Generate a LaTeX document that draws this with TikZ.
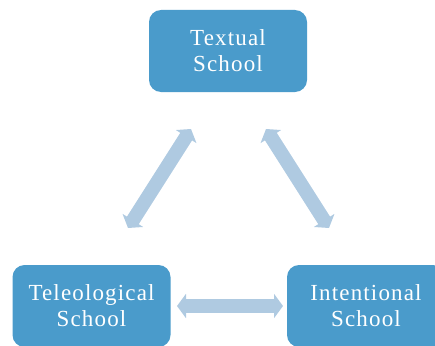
\documentclass[tikz,border=0pt]{standalone}
\usepackage{fontspec}
\usetikzlibrary{arrows.meta}
\newfontfamily\boxfont[LetterSpace=5]{Liberation Serif}
\definecolor{boxblue}{HTML}{4A9BCB}
\definecolor{arrowblue}{HTML}{AFCAE1}
\tikzset{
  schoolbox/.style={rectangle, rounded corners=12pt, fill=boxblue, draw=none,
    minimum width=158pt, minimum height=82pt, text=white, align=center,
    font=\boxfont\fontsize{23}{26}\selectfont, inner sep=0pt},
  fatarrow/.style={draw=arrowblue, line width=14pt,
    {Triangle[length=9pt,width=24pt]}-{Triangle[length=9pt,width=24pt]}}
}
\begin{document}
\begin{tikzpicture}[x=1pt,y=-1pt]
\useasboundingbox (0,0) rectangle (435,345);
\clip (0,0) rectangle (435,345);
\node[schoolbox] (textual) at (228,51) {Textual\\School};
\node[schoolbox] (teleo) at (91.5,306) {Teleological\\School};
\node[schoolbox] (intent) at (366,306) {Intentional\\School};
\coordinate (a1) at (191,129);
\coordinate (a2) at (128,228);
\coordinate (b1) at (266,129);
\coordinate (b2) at (329,228);
\coordinate (c1) at (177,306);
\coordinate (c2) at (283,306);
\draw[fatarrow] (a1) -- (a2);
\draw[fatarrow] (b1) -- (b2);
\draw[fatarrow] (c1) -- (c2);
\end{tikzpicture}
\end{document}
